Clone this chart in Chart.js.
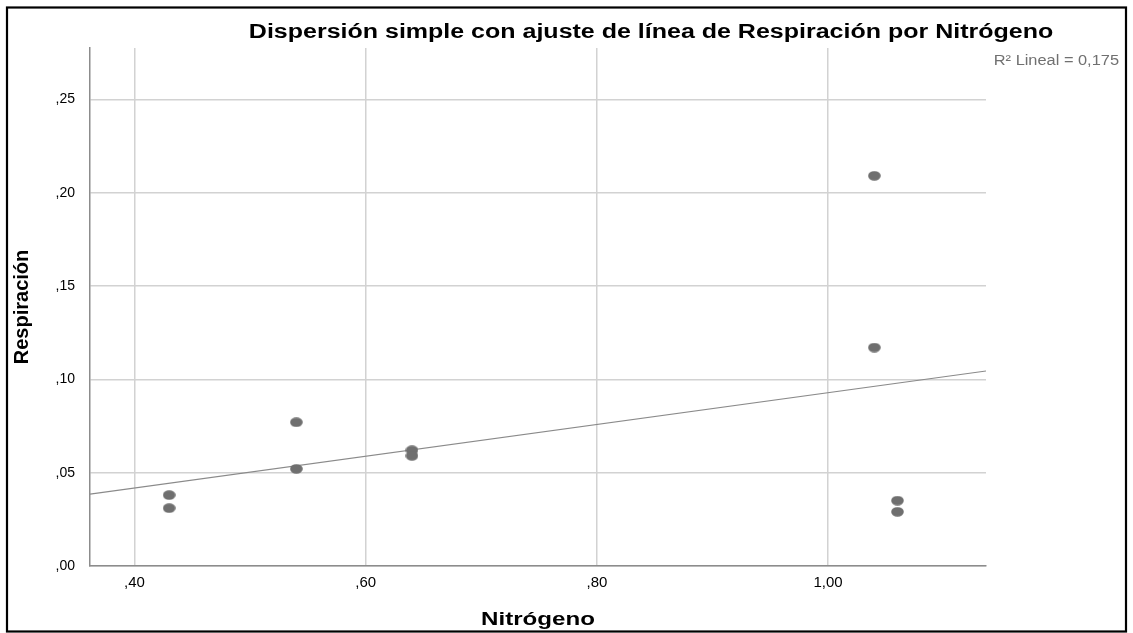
<!DOCTYPE html>
<html lang="es">
<head>
<meta charset="utf-8">
<title>Respiración por Nitrógeno</title>
<script src="https://cdn.jsdelivr.net/npm/chart.js@4/dist/chart.umd.min.js"></script>
<style>
  html, body { margin: 0; padding: 0; background: #ffffff; }
  #wrap { width: 1133px; height: 633px; position: relative; }
</style>
</head>
<body>
<div id="wrap"><canvas id="c" width="1133" height="633"></canvas></div>
<script>
// Observed values: nitrogen content vs. respiration
const nitrogeno   = [0.43, 0.43, 0.54, 0.54, 0.64, 0.64, 1.04, 1.04, 1.06, 1.06];
const respiracion = [0.038, 0.031, 0.077, 0.052, 0.062, 0.059, 0.209, 0.117, 0.035, 0.029];

// Axis ticks
const xTicks = [0.40, 0.60, 0.80, 1.00];
const yTicks = [0.00, 0.05, 0.10, 0.15, 0.20, 0.25];

// Texts
const tituloGrafico = 'Dispersión simple con ajuste de línea de Respiración por Nitrógeno';
const tituloX = 'Nitrógeno';
const tituloY = 'Respiración';
const etiquetaR2 = 'R² Lineal = 0,175';

// Axis extents
const xMin = 0.3615, xMax = 1.1366;
const yMin = 0, yMax = 0.2775;

// Least-squares fit of respiracion on nitrogeno
function ajusteLineal(xs, ys) {
  const n = xs.length;
  const mx = xs.reduce((a, b) => a + b, 0) / n;
  const my = ys.reduce((a, b) => a + b, 0) / n;
  let sxy = 0, sxx = 0;
  for (let i = 0; i < n; i++) {
    sxy += (xs[i] - mx) * (ys[i] - my);
    sxx += (xs[i] - mx) * (xs[i] - mx);
  }
  const b = sxy / sxx;
  return { a: my - b * mx, b };
}
const fit = ajusteLineal(nitrogeno, respiracion);
const lineaAjuste = [xMin, xMax].map(x => ({ x, y: fit.a + fit.b * x }));
const puntos = nitrogeno.map((x, i) => ({ x, y: respiracion[i] }));

// Elliptical marker
const marcador = document.createElement('canvas');
marcador.width = 13; marcador.height = 10;
(function () {
  const g = marcador.getContext('2d');
  g.fillStyle = '#6f6f6f';
  g.beginPath();
  g.ellipse(6.5, 5, 6.3, 4.8, 0, 0, Math.PI * 2);
  g.fill();
})();

// Number format with decimal comma and no leading zero
function fmt(v) {
  let s = v.toFixed(2).replace('.', ',');
  if (s.startsWith('0,')) s = s.slice(1);
  return s;
}

const FONT = "'Liberation Sans', Arial, sans-serif";

// Text drawn with a slight horizontal widening
function textoAncho(ctx, txt, x, y, font, color, align, baseline, sx) {
  ctx.save();
  ctx.font = font;
  ctx.fillStyle = color;
  ctx.textAlign = align;
  ctx.textBaseline = baseline;
  ctx.translate(x, y);
  ctx.scale(sx, 1);
  ctx.fillText(txt, 0, 0);
  ctx.restore();
}

// Frame, title, x-axis title and R² label
const decoracion = {
  id: 'decoracion',
  afterDraw(chart) {
    const ctx = chart.ctx;
    const area = chart.chartArea;
    ctx.save();
    ctx.strokeStyle = '#000000';
    ctx.lineWidth = 2.2;
    ctx.strokeRect(7, 7.5, 1119, 624);
    ctx.restore();

    textoAncho(ctx, tituloGrafico, 651, 38, 'bold 20px ' + FONT, '#000000', 'center', 'alphabetic', 1.25);
    textoAncho(ctx, etiquetaR2, 1119, 61, '14px ' + FONT, '#707070', 'right', 'middle', 1.17);
    textoAncho(ctx, tituloX, (area.left + area.right) / 2, 620, 'bold 19px ' + FONT, '#000000', 'center', 'middle', 1.27);
  }
};

new Chart(document.getElementById('c'), {
  type: 'scatter',
  data: {
    datasets: [
      {
        type: 'line',
        label: 'Ajuste',
        data: lineaAjuste,
        borderColor: '#8a8a8a',
        borderWidth: 1.2,
        pointRadius: 0,
        fill: false,
        tension: 0,
        order: 2
      },
      {
        label: 'Respiración',
        data: puntos,
        pointStyle: marcador,
        pointRadius: 6,
        backgroundColor: '#6f6f6f',
        borderColor: '#6f6f6f',
        order: 1
      }
    ]
  },
  options: {
    responsive: false,
    animation: false,
    events: [],
    layout: { padding: { top: 48, right: 147, left: 0, bottom: 0 } },
    plugins: {
      legend: { display: false },
      title: { display: false },
      tooltip: { enabled: false }
    },
    scales: {
      x: {
        type: 'linear',
        min: xMin,
        max: xMax,
        afterBuildTicks: s => { s.ticks = xTicks.map(v => ({ value: v })); },
        afterFit: s => { s.height = 67; },
        grid: { color: '#d2d2d2', lineWidth: 1.5, drawTicks: false },
        border: { display: true, color: '#8c8c8c', width: 1.5 },
        ticks: {
          color: '#000000',
          font: { family: FONT, size: 15 },
          padding: 8,
          maxRotation: 0,
          callback: v => fmt(v)
        },
        title: { display: false }
      },
      y: {
        type: 'linear',
        min: yMin,
        max: yMax,
        afterBuildTicks: s => { s.ticks = yTicks.map(v => ({ value: v })); },
        afterFit: s => { s.width = 90; },
        grid: { color: '#d2d2d2', lineWidth: 1.5, drawTicks: false },
        border: { display: true, color: '#8c8c8c', width: 1.5 },
        ticks: {
          color: '#000000',
          font: { family: FONT, size: 14 },
          padding: 15,
          callback: v => fmt(v)
        },
        title: {
          display: true,
          text: tituloY,
          color: '#000000',
          font: { family: FONT, size: 20, weight: 'bold' },
          padding: { top: 10, bottom: 0 }
        }
      }
    }
  },
  plugins: [decoracion]
});
</script>
</body>
</html>
